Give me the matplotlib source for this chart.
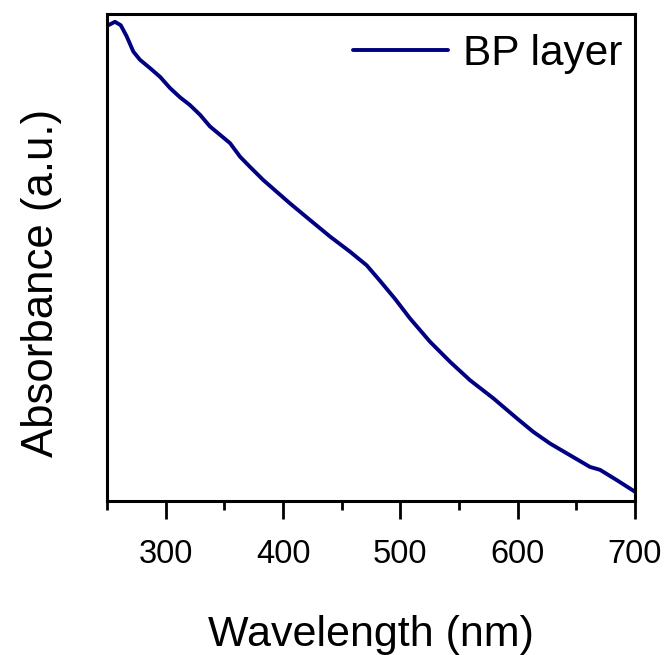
import matplotlib
matplotlib.use("Agg")
import matplotlib.pyplot as plt
from matplotlib.ticker import MultipleLocator

plt.rcParams['font.family'] = ['Liberation Sans', 'DejaVu Sans']

wavelength = [251.1, 256.8, 261.7, 266.8, 272.4, 278.1, 286.6, 295.2, 303.7, 312.2,
              320.7, 329.3, 337.8, 346.3, 354.8, 363.4, 371.9, 383.2, 394.6, 406.0,
              423.0, 440.1, 457.1, 471.3, 482.7, 495.5, 508.2, 525.3, 542.3, 559.4,
              579.2, 599.2, 613.3, 627.6, 644.6, 661.6, 670.2, 684.4, 700.0]
absorbance = [0.977, 0.984, 0.977, 0.954, 0.923, 0.906, 0.889, 0.871, 0.848, 0.829,
              0.813, 0.793, 0.769, 0.752, 0.735, 0.707, 0.686, 0.659, 0.635, 0.611,
              0.577, 0.543, 0.512, 0.484, 0.452, 0.415, 0.375, 0.327, 0.286, 0.248,
              0.211, 0.170, 0.142, 0.118, 0.094, 0.070, 0.064, 0.043, 0.019]
series_label = "BP layer"

fig = plt.figure(figsize=(6.7, 6.55), dpi=100)
ax = fig.add_axes([0.1597, 0.2351, 0.9478 - 0.1597, 0.9786 - 0.2351])
ax.plot(wavelength, absorbance, color='#000080', lw=2.8, label=series_label,
        solid_joinstyle='round', solid_capstyle='round')

ax.set_xlim(250, 700)
ax.set_ylim(0, 1)
ax.xaxis.set_major_locator(MultipleLocator(100))
ax.xaxis.set_minor_locator(MultipleLocator(50))
ax.set_yticks([])
ax.tick_params(axis='x', which='major', direction='out', length=13, width=2, labelsize=23.5, pad=14)
ax.tick_params(axis='x', which='minor', direction='out', length=6.5, width=2)
for s in ax.spines.values():
    s.set_linewidth(2.2)

ax.set_xlabel("Wavelength (nm)", fontsize=31, labelpad=33)
ax.set_ylabel("Absorbance (a.u.)", fontsize=31.5)
ax.yaxis.set_label_coords(-0.086, 0.448)

ax.legend(loc='upper right', bbox_to_anchor=(1.0, 0.985), frameon=False, fontsize=30.5,
          handlelength=2.25, handletextpad=0.35, borderaxespad=0.0, borderpad=0.3)

fig.savefig("out.png", dpi=100)
